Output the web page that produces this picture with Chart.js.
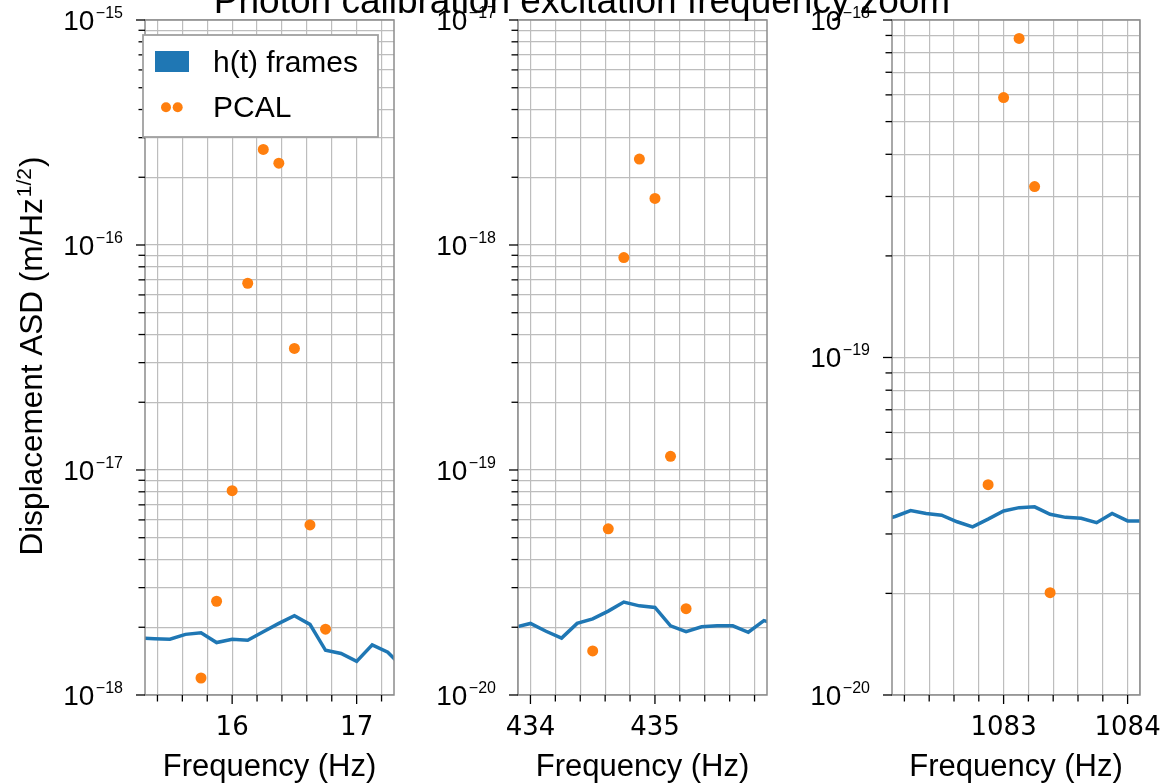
<!DOCTYPE html>
<html>
<head>
<meta charset="utf-8">
<title>Photon calibration excitation frequency zoom</title>
<script src="https://cdn.jsdelivr.net/npm/chart.js@4.4.1/dist/chart.umd.min.js"></script>
<style>
  html, body { margin: 0; padding: 0; background: #fff; }
  body { width: 1164px; height: 783px; position: relative; overflow: hidden; }
  .panel { position: absolute; top: 0; height: 783px; }
  #title {
    position: absolute; left: 0; top: -18px; width: 1164px; text-align: center;
    font: 37px "Liberation Sans", Arial, sans-serif; line-height: 37px; color: #000;
    white-space: nowrap; z-index: 5;
  }
</style>
</head>
<body>
<div id="title">Photon calibration excitation frequency zoom</div>
<div class="panel" style="left:0;width:400px"><canvas id="c1"></canvas></div>
<div class="panel" style="left:400px;width:380px"><canvas id="c2"></canvas></div>
<div class="panel" style="left:780px;width:384px"><canvas id="c3"></canvas></div>
<script>
// ---- data ----
const seriesNames = ['h(t) frames', 'PCAL'];

// panel 1: around 16.3 Hz
const freq1 = [15.25, 15.375, 15.5, 15.625, 15.75, 15.875, 16.0, 16.125, 16.25, 16.375, 16.5, 16.625, 16.75, 16.875, 17.0, 17.125, 17.25, 17.375];
const asd1 = [1.79e-18, 1.78e-18, 1.77e-18, 1.86e-18, 1.89e-18, 1.71e-18, 1.77e-18, 1.75e-18, 1.91e-18, 2.08e-18, 2.25e-18, 2.06e-18, 1.58e-18, 1.53e-18, 1.41e-18, 1.67e-18, 1.55e-18, 1.32e-18];
const pcalFreq1 = [15.75, 15.875, 16.0, 16.125, 16.25, 16.375, 16.5, 16.625, 16.75];
const pcal1 = [1.19e-18, 2.61e-18, 8.09e-18, 6.76e-17, 2.66e-16, 2.31e-16, 3.47e-17, 5.70e-18, 1.96e-18];

// panel 2: around 434.9 Hz
const freq2 = [433.875, 434.0, 434.125, 434.25, 434.375, 434.5, 434.625, 434.75, 434.875, 435.0, 435.125, 435.25, 435.375, 435.5, 435.625, 435.75, 435.875, 436.0];
const asd2 = [2.00e-20, 2.08e-20, 1.92e-20, 1.79e-20, 2.08e-20, 2.18e-20, 2.36e-20, 2.59e-20, 2.49e-20, 2.45e-20, 2.03e-20, 1.91e-20, 2.01e-20, 2.03e-20, 2.03e-20, 1.90e-20, 2.14e-20, 2.05e-20];
const pcalFreq2 = [434.5, 434.625, 434.75, 434.875, 435.0, 435.125, 435.25];
const pcal2 = [1.57e-20, 5.48e-20, 8.79e-19, 2.41e-18, 1.61e-18, 1.15e-19, 2.42e-20];

// panel 3: around 1083.1 Hz
const freq3 = [1082.0, 1082.125, 1082.25, 1082.375, 1082.5, 1082.625, 1082.75, 1082.875, 1083.0, 1083.125, 1083.25, 1083.375, 1083.5, 1083.625, 1083.75, 1083.875, 1084.0, 1084.125];
const asd3 = [3.28e-20, 3.38e-20, 3.52e-20, 3.45e-20, 3.41e-20, 3.26e-20, 3.15e-20, 3.32e-20, 3.51e-20, 3.59e-20, 3.61e-20, 3.43e-20, 3.36e-20, 3.34e-20, 3.24e-20, 3.45e-20, 3.28e-20, 3.28e-20];
const pcalFreq3 = [1082.875, 1083.0, 1083.125, 1083.25, 1083.375];
const pcal3 = [4.20e-20, 5.89e-19, 8.82e-19, 3.21e-19, 2.01e-20];

// axes
const xRange1 = [15.3, 17.3];
const xRange2 = [433.9, 435.9];
const xRange3 = [1082.1, 1084.1];
const xTicks1 = [15.4, 15.6, 15.8, 16.0, 16.2, 16.4, 16.6, 16.8, 17.0, 17.2];
const xTicks2 = [434.0, 434.2, 434.4, 434.6, 434.8, 435.0, 435.2, 435.4, 435.6, 435.8];
const xTicks3 = [1082.2, 1082.4, 1082.6, 1082.8, 1083.0, 1083.2, 1083.4, 1083.6, 1083.8, 1084.0];
const xLabels1 = [16, 17];
const xLabels2 = [434, 435];
const xLabels3 = [1083, 1084];
const yDecades1 = [-18, -17, -16, -15];
const yDecades2 = [-20, -19, -18, -17];
const yDecades3 = [-20, -19, -18];

const BLUE = '#1f77b4', ORANGE = '#ff7f0e';
const GRID = '#bdbdbd', SPINE = '#8c8c8c';

function logTicks(decades) {
  const out = [];
  for (let i = 0; i < decades.length - 1; i++) {
    for (let m = 1; m < 10; m++) out.push(m * Math.pow(10, decades[i]));
  }
  out.push(Math.pow(10, decades[decades.length - 1]));
  return out;
}

function isMajor(list, v) {
  return list.some(m => Math.abs(m - v) < 1e-6);
}

const panelDecor = {
  id: 'panelDecor',
  afterDraw(chart, args, o) {
    const ctx = chart.ctx, a = chart.chartArea;
    const x = chart.scales.x, y = chart.scales.y;
    ctx.save();

    // frame
    ctx.strokeStyle = SPINE;
    ctx.lineWidth = 1.5;
    ctx.strokeRect(a.left, a.top, a.right - a.left, a.bottom - a.top);

    // tick marks
    ctx.strokeStyle = '#000';
    ctx.lineWidth = 1.3;
    o.xTicks.forEach(v => {
      const px = x.getPixelForValue(v);
      const len = isMajor(o.xLabels, v) ? 9 : 6.5;
      ctx.beginPath(); ctx.moveTo(px, a.bottom); ctx.lineTo(px, a.bottom + len); ctx.stroke();
    });
    logTicks(o.decades).forEach((v, i) => {
      const py = y.getPixelForValue(v);
      const len = (i % 9 === 0) ? 9 : 6.5;
      ctx.beginPath(); ctx.moveTo(a.left, py); ctx.lineTo(a.left - len, py); ctx.stroke();
    });

    // y tick labels 10^n
    ctx.fillStyle = '#000';
    ctx.textAlign = 'left';
    ctx.textBaseline = 'alphabetic';
    o.decades.forEach(d => {
      const py = y.getPixelForValue(Math.pow(10, d));
      const xr = a.left - 22;
      const exp = '\u2212' + Math.abs(d);
      ctx.font = '16px "Liberation Sans"';
      const ew = ctx.measureText(exp).width;
      ctx.fillText(exp, xr - ew, py - 2);
      ctx.font = '28px "Liberation Sans"';
      const bw = ctx.measureText('10').width;
      ctx.fillText('10', xr - ew - 1.5 - bw, py + 10);
    });

    // y axis label
    if (o.ylabel) {
      ctx.save();
      ctx.translate(42, 357);
      ctx.rotate(-Math.PI / 2);
      const main = 'Displacement ASD (m/Hz', sup = '1/2', close = ')';
      ctx.font = '31.5px "Liberation Sans"';
      const w1 = ctx.measureText(main).width, w3 = ctx.measureText(close).width;
      ctx.font = '21px "Liberation Sans"';
      const w2 = ctx.measureText(sup).width;
      let sx = -(w1 + w2 + w3) / 2;
      ctx.font = '31.5px "Liberation Sans"';
      ctx.fillText(main, sx, 0);
      sx += w1;
      ctx.font = '21px "Liberation Sans"';
      ctx.fillText(sup, sx + 1, -11);
      sx += w2 + 2;
      ctx.font = '31.5px "Liberation Sans"';
      ctx.fillText(close, sx, 0);
      ctx.restore();
    }

    // legend
    if (o.legend) {
      const ds = chart.data.datasets;
      const lx = a.left - 2, ly = a.top + 15, lw = 235, lh = 102;
      ctx.fillStyle = '#fff';
      ctx.fillRect(lx, ly, lw, lh);
      ctx.strokeStyle = '#a0a0a0';
      ctx.lineWidth = 1.8;
      ctx.strokeRect(lx, ly, lw, lh);
      ctx.fillStyle = ds[0].borderColor;
      ctx.fillRect(lx + 12, ly + 16, 34, 21);
      ctx.fillStyle = ds[1].backgroundColor;
      [lx + 23, lx + 34.7].forEach(cx => {
        ctx.beginPath(); ctx.arc(cx, ly + 72.3, 5, 0, Math.PI * 2); ctx.fill();
      });
      ctx.fillStyle = '#000';
      ctx.font = '30px "Liberation Sans"';
      ctx.fillText(ds[0].label, lx + 70, ly + 37);
      ctx.fillText(ds[1].label, lx + 70, ly + 82);
    }
    ctx.restore();
  }
};

function makePanel(id, cfg) {
  const lineData = cfg.freq.map((f, i) => ({ x: f, y: cfg.asd[i] }));
  const pcalData = cfg.pcalFreq.map((f, i) => ({ x: f, y: cfg.pcal[i] }));
  const yTickVals = logTicks(cfg.decades);
  // grid positions; an unlabelled edge tick is added next to a labelled end tick
  // so that its label does not make Chart.js shrink the plot area
  let xGridVals = cfg.xTicks.slice();
  if (isMajor(cfg.xLabels, xGridVals[0])) xGridVals.unshift(cfg.xRange[0]);
  if (isMajor(cfg.xLabels, xGridVals[xGridVals.length - 1])) xGridVals.push(cfg.xRange[1]);
  return new Chart(document.getElementById(id), {
    type: 'line',
    data: {
      datasets: [{
        label: seriesNames[0],
        data: lineData,
        borderColor: BLUE,
        backgroundColor: BLUE,
        borderWidth: 3.5,
        pointRadius: 0,
        tension: 0,
        fill: false
      }, {
        label: seriesNames[1],
        data: pcalData,
        showLine: false,
        backgroundColor: ORANGE,
        borderColor: ORANGE,
        pointRadius: 5.5,
        pointBorderWidth: 0,
        pointHoverRadius: 5.5
      }]
    },
    options: {
      responsive: true,
      maintainAspectRatio: false,
      animation: false,
      events: [],
      layout: { padding: cfg.padding },
      plugins: {
        legend: { display: false },
        tooltip: { enabled: false },
        panelDecor: {
          xTicks: cfg.xTicks,
          xLabels: cfg.xLabels,
          decades: cfg.decades,
          legend: !!cfg.legend,
          ylabel: !!cfg.ylabel
        }
      },
      scales: {
        x: {
          type: 'linear',
          min: cfg.xRange[0],
          max: cfg.xRange[1],
          afterBuildTicks: s => { s.ticks = xGridVals.map(v => ({ value: v })); },
          grid: { color: GRID, lineWidth: 1.2, drawTicks: false },
          border: { display: false },
          ticks: {
            autoSkip: false,
            maxRotation: 0,
            minRotation: 0,
            padding: 18,
            color: '#000',
            font: { family: 'DejaVu Sans', size: 26 },
            callback: v => {
              const m = cfg.xLabels.find(l => Math.abs(l - v) < 1e-6);
              return m === undefined ? '' : String(m);
            }
          },
          title: {
            display: true,
            text: 'Frequency (Hz)',
            color: '#000',
            font: { family: 'Liberation Sans', size: 31, lineHeight: 0.31 },
            padding: { top: 0, bottom: 11.2 }
          }
        },
        y: {
          type: 'logarithmic',
          min: Math.pow(10, cfg.decades[0]),
          max: Math.pow(10, cfg.decades[cfg.decades.length - 1]),
          afterBuildTicks: s => { s.ticks = yTickVals.map(v => ({ value: v })); },
          grid: { color: GRID, lineWidth: 1.2, drawTicks: false },
          border: { display: false },
          ticks: { display: false }
        }
      }
    },
    plugins: [panelDecor]
  });
}

makePanel('c1', {
  freq: freq1, asd: asd1, pcalFreq: pcalFreq1, pcal: pcal1,
  xRange: xRange1, xTicks: xTicks1, xLabels: xLabels1, decades: yDecades1,
  padding: { left: 145, right: 6, top: 20, bottom: 0 },
  legend: true, ylabel: true
});
makePanel('c2', {
  freq: freq2, asd: asd2, pcalFreq: pcalFreq2, pcal: pcal2,
  xRange: xRange2, xTicks: xTicks2, xLabels: xLabels2, decades: yDecades2,
  padding: { left: 118, right: 13, top: 20, bottom: 0 }
});
makePanel('c3', {
  freq: freq3, asd: asd3, pcalFreq: pcalFreq3, pcal: pcal3,
  xRange: xRange3, xTicks: xTicks3, xLabels: xLabels3, decades: yDecades3,
  padding: { left: 112, right: 24, top: 20, bottom: 0 }
});
</script>
</body>
</html>
